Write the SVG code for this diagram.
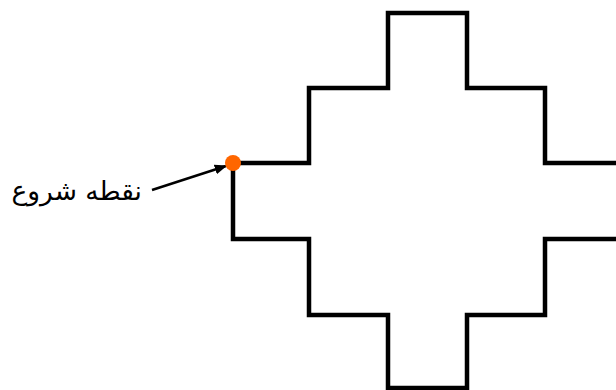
<svg xmlns="http://www.w3.org/2000/svg" width="616" height="390" viewBox="0 0 616 390">
<defs>
<style>
.outline{fill:none;stroke:#000;stroke-width:4.5;stroke-linecap:square;stroke-linejoin:miter}
.conn{fill:none;stroke:#000;stroke-width:2.5}
.label{font-family:"DejaVu Sans",sans-serif;font-size:26.5px;fill:#000}
</style>
<marker id="ah" viewBox="0 0 10 10" refX="9" refY="5" markerWidth="5" markerHeight="5" orient="auto" markerUnits="strokeWidth">
<path d="M0,1 L10,5 L0,9 Z" fill="#000"/>
</marker>
</defs>
<g id="shape">
<path class="outline" d="M233,163 L309,163 L309,88 L388,88 L388,13 L467,13 L467,88 L545,88 L545,163 L620,163 M620,239 L545,239 L545,315 L467,315 L467,388 L388,388 L388,315 L309,315 L309,239 L233,239 L233,163"/>
</g>
<g id="connectors">
<line class="conn" x1="152" y1="190" x2="226" y2="166" marker-end="url(#ah)"/>
</g>
<g id="start-point">
<circle cx="233" cy="163" r="8" fill="#FF6600"/>
</g>
<g id="label">
<text class="label" x="142" y="200" text-anchor="end">نقطه شروع</text>
</g>
</svg>
